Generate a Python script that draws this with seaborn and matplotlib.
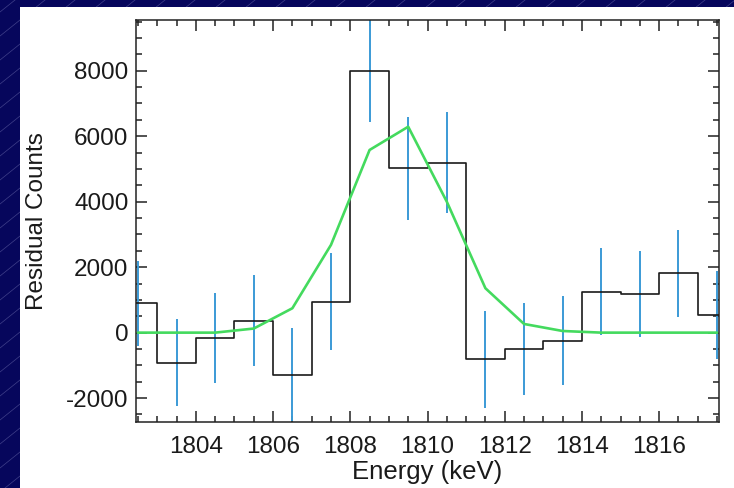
import numpy as np
import pandas as pd
import matplotlib
matplotlib.use("Agg")
import matplotlib.pyplot as plt
from matplotlib.lines import Line2D
from matplotlib.patches import Rectangle
from matplotlib.ticker import MultipleLocator
import seaborn as sns

# ---- data ----
bin_edges = list(range(1802, 1819))  # keV, 1-keV bins
bin_centers = [1802.5, 1803.5, 1804.5, 1805.5, 1806.5, 1807.5, 1808.5, 1809.5,
               1810.5, 1811.5, 1812.5, 1813.5, 1814.5, 1815.5, 1816.5, 1817.5]
residual_counts = [900, -916, -153, 357, -1290, 947, 8000, 5020,
                   5190, -813, -507, -244, 1252, 1180, 1812, 540]
count_errors = [1300, 1340, 1374, 1390, 1424, 1490, 1557, 1575,
                1550, 1475, 1400, 1350, 1320, 1325, 1330, 1350]
model_counts = [0, 0, 0, 125, 745, 2680, 5580, 6290,
                4000, 1356, 265, 50, 0, 0, 0, 0]
x_ticks = [1804, 1806, 1808, 1810, 1812, 1814, 1816]
y_ticks = [-2000, 0, 2000, 4000, 6000, 8000]

sns.set_theme(style="ticks")
plt.rcParams["font.family"] = ["Liberation Sans", "DejaVu Sans"]
plt.rcParams["axes.unicode_minus"] = False

W, H = 734, 488
fig = plt.figure(figsize=(W / 100, H / 100), dpi=100)
fig.patch.set_facecolor("#06065c")

# slide background: faint diagonal lines + white panel
for c in np.arange(-700, 500, 24):
    xs = np.array([0, W])
    ys = c + 0.8 * xs
    fig.add_artist(Line2D(xs / W, ys / H, transform=fig.transFigure,
                          color="#7a7ab8", lw=0.5, alpha=0.5, zorder=-3))
fig.add_artist(Rectangle((20 / W, 0), 1, (H - 7) / H, transform=fig.transFigure,
                         facecolor="white", edgecolor="none", zorder=-2))

ax = fig.add_axes([136 / W, (H - 422) / H, 583 / W, 402 / H])
ax.set_facecolor("white")

step_df = pd.DataFrame({"energy": bin_edges,
                        "counts": residual_counts + [residual_counts[-1]]})
sns.lineplot(data=step_df, x="energy", y="counts", drawstyle="steps-post",
             color="#1a1a1a", lw=1.2, ax=ax, zorder=3)

model_df = pd.DataFrame({"energy": bin_centers, "model": model_counts})
sns.lineplot(data=model_df, x="energy", y="model", color="#44da5e",
             lw=1.9, ax=ax, zorder=4)

ax.errorbar(bin_centers, residual_counts, yerr=count_errors, fmt="none",
            ecolor="#3b9ad6", elinewidth=1.4, capsize=0, zorder=2)

ax.set_xlim(1802.45, 1817.55)
ax.set_ylim(-2730, 9550)
ax.set_xticks(x_ticks)
ax.set_yticks(y_ticks)
ax.xaxis.set_minor_locator(MultipleLocator(0.5))
ax.yaxis.set_minor_locator(MultipleLocator(500))

ax.tick_params(which="both", direction="in", top=True, right=True,
               color="#222222", width=1.1)
ax.tick_params(which="major", length=8, labelsize=17.5, labelcolor="#1a1a1a")
ax.tick_params(which="minor", length=4)
ax.tick_params(axis="x", which="major", pad=10)
ax.tick_params(axis="y", which="major", pad=5.4)
for s in ax.spines.values():
    s.set_color("#222222")
    s.set_linewidth(1.1)

ax.set_xlabel("Energy (keV)", fontsize=18.5, color="#1a1a1a")
ax.set_ylabel("Residual Counts", fontsize=17.5, color="#1a1a1a")
ax.xaxis.set_label_coords(0.5, -0.094)
ax.yaxis.set_label_coords(-0.151, 0.5)

fig.savefig("out.png", dpi=100, facecolor=fig.get_facecolor())
